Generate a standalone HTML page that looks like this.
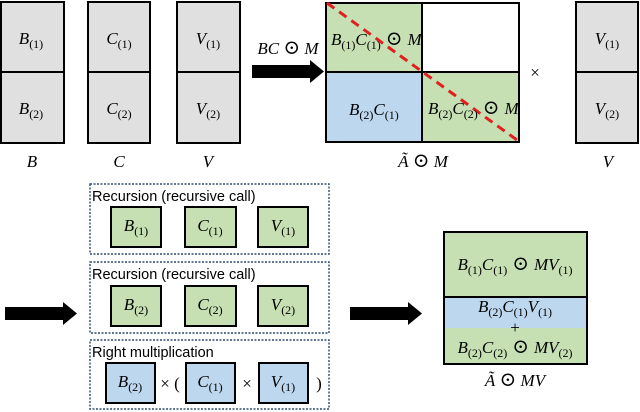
<!DOCTYPE html>
<html><head><meta charset="utf-8"><style>
html,body{margin:0;padding:0;background:#fff}
svg{display:block}
text{font-family:"Liberation Serif","DejaVu Serif",serif;font-style:italic;font-size:17px}
.s{font-style:normal;font-size:12px}
.n{font-style:normal}
.o{font-style:normal;font-size:20px}
.lab{font-family:"Liberation Sans","DejaVu Sans",sans-serif;font-style:normal;font-size:14.5px}
</style></head><body>
<svg width="640" height="412" viewBox="0 0 640 412" xmlns="http://www.w3.org/2000/svg">
<defs>
<g id="arr"><rect x="0" y="-6" width="60" height="13" fill="#000"/><polygon points="58,-11 72,0.5 58,12" fill="#000"/></g>
</defs>
<g stroke="#000" stroke-width="2" fill="#e0e0e0">
<rect x="1" y="2" width="63" height="141"/><line x1="1" y1="72" x2="64" y2="72"/>
<rect x="88" y="2" width="62" height="141"/><line x1="88" y1="72" x2="150" y2="72"/>
<rect x="177" y="2" width="63" height="141"/><line x1="177" y1="72" x2="240" y2="72"/>
<rect x="576" y="2" width="62" height="141"/><line x1="576" y1="72" x2="638" y2="72"/>
</g>
<g text-anchor="middle">
<text x="31" y="44">B<tspan class="s" dy="4">(1)</tspan></text>
<text x="31" y="114">B<tspan class="s" dy="4">(2)</tspan></text>
<text x="119" y="44">C<tspan class="s" dy="4">(1)</tspan></text>
<text x="119" y="114">C<tspan class="s" dy="4">(2)</tspan></text>
<text x="208" y="44">V<tspan class="s" dy="4">(1)</tspan></text>
<text x="208" y="114">V<tspan class="s" dy="4">(2)</tspan></text>
<text x="607" y="44">V<tspan class="s" dy="4">(1)</tspan></text>
<text x="607" y="114">V<tspan class="s" dy="4">(2)</tspan></text>
<text x="32" y="167">B</text><text x="119" y="167">C</text><text x="208" y="167">V</text>
<text x="608" y="167">V</text>
<text x="288" y="54">BC <tspan class="o">⊙</tspan> M</text>
<text x="423" y="167">Ã <tspan class="o">⊙</tspan> M</text>
<text x="535" y="78" class="n" font-size="15">×</text>
</g>
<use href="#arr" x="252" y="71"/>
<g stroke="#000" stroke-width="2">
<rect x="326" y="3" width="96" height="69" fill="#c6e0b4"/>
<rect x="422" y="3" width="97" height="69" fill="#fff"/>
<rect x="326" y="72" width="96" height="70" fill="#bdd7ee"/>
<rect x="422" y="72" width="97" height="70" fill="#c6e0b4"/>
</g>
<line x1="327" y1="3" x2="517" y2="140" stroke="#e02020" stroke-width="3" stroke-dasharray="9,6"/>
<g>
<text x="331" y="45">B<tspan class="s" dy="4">(1)</tspan><tspan dy="-4">C</tspan><tspan class="s" dy="4">(1)</tspan><tspan class="o" dy="-4"> ⊙ </tspan>M</text>
<text x="349" y="115">B<tspan class="s" dy="4">(2)</tspan><tspan dy="-4">C</tspan><tspan class="s" dy="4">(1)</tspan></text>
<text x="428" y="114">B<tspan class="s" dy="4">(2)</tspan><tspan dy="-4">C</tspan><tspan class="s" dy="4">(2)</tspan><tspan class="o" dy="-4"> ⊙ </tspan>M</text>
</g>
<g fill="none" stroke="#2f4a6e" stroke-width="1.4" stroke-dasharray="2,1.5">
<rect x="90" y="184" width="239" height="70"/>
<rect x="90" y="262" width="239" height="71"/>
<rect x="90" y="340" width="239" height="69"/>
</g>
<text class="lab" x="92" y="201">Recursion (recursive call)</text>
<text class="lab" x="92" y="279">Recursion (recursive call)</text>
<text class="lab" x="92" y="357">Right multiplication</text>
<g stroke="#000" stroke-width="2" fill="#c6e0b4">
<rect x="111" y="207" width="50" height="40"/><rect x="185" y="207" width="51" height="40"/><rect x="258" y="207" width="50" height="40"/>
<rect x="111" y="286" width="50" height="40"/><rect x="185" y="286" width="51" height="40"/><rect x="258" y="286" width="50" height="40"/>
<g fill="#bdd7ee"><rect x="106" y="363" width="49" height="40"/><rect x="186" y="363" width="49" height="40"/><rect x="259" y="363" width="49" height="40"/></g>
</g>
<g text-anchor="middle">
<text x="136" y="231">B<tspan class="s" dy="4">(1)</tspan></text>
<text x="210" y="231">C<tspan class="s" dy="4">(1)</tspan></text>
<text x="283" y="231">V<tspan class="s" dy="4">(1)</tspan></text>
<text x="136" y="310">B<tspan class="s" dy="4">(2)</tspan></text>
<text x="210" y="310">C<tspan class="s" dy="4">(2)</tspan></text>
<text x="283" y="310">V<tspan class="s" dy="4">(2)</tspan></text>
<text x="130" y="387">B<tspan class="s" dy="4">(2)</tspan></text>
<text x="210" y="387">C<tspan class="s" dy="4">(1)</tspan></text>
<text x="283" y="387">V<tspan class="s" dy="4">(1)</tspan></text>
<text class="n" x="170" y="389">× (</text>
<text class="n" x="247" y="389">×</text>
<text class="n" x="319" y="389">)</text>
</g>
<use href="#arr" x="5" y="313"/>
<use href="#arr" x="350" y="313"/>
<rect x="444" y="232" width="143" height="132" fill="#c6e0b4" stroke="#000" stroke-width="2"/>
<rect x="445" y="298" width="141" height="30" fill="#bdd7ee"/>
<line x1="444" y1="297" x2="587" y2="297" stroke="#000" stroke-width="2"/>
<g text-anchor="middle">
<text x="515" y="270">B<tspan class="s" dy="4">(1)</tspan><tspan dy="-4">C</tspan><tspan class="s" dy="4">(1)</tspan><tspan class="o" dy="-4"> ⊙ </tspan>MV<tspan class="s" dy="4">(1)</tspan></text>
<text x="515" y="312">B<tspan class="s" dy="4">(2)</tspan><tspan dy="-4">C</tspan><tspan class="s" dy="4">(1)</tspan><tspan dy="-4">V</tspan><tspan class="s" dy="4">(1)</tspan></text>
<text class="n" x="515" y="333" font-size="13">+</text>
<text x="515" y="353">B<tspan class="s" dy="4">(2)</tspan><tspan dy="-4">C</tspan><tspan class="s" dy="4">(2)</tspan><tspan class="o" dy="-4"> ⊙ </tspan>MV<tspan class="s" dy="4">(2)</tspan></text>
<text x="515" y="386">Ã <tspan class="o">⊙</tspan> MV</text>
</g>
</svg>
</body></html>
